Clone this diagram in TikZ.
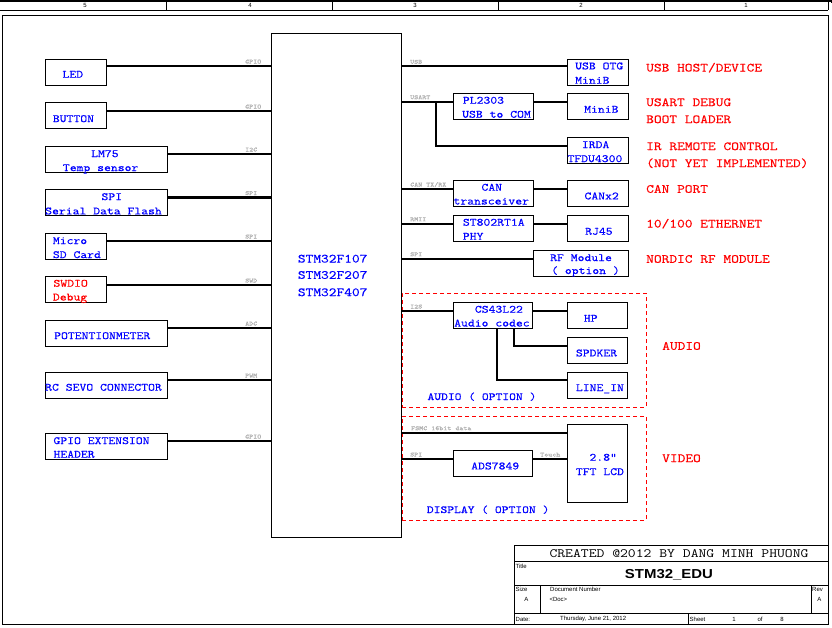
\documentclass[tikz,border=0pt]{standalone}
\usepackage{fontspec}
\setmainfont{Liberation Sans}
\newfontfamily\cour{Latin Modern Mono}[FakeStretch=1.2,FakeBold=0.4]
\newfontfamily\courl{Latin Modern Mono}[FakeStretch=1.2]
\definecolor{txtblue}{RGB}{0,0,255}
\definecolor{txtred}{RGB}{255,0,0}
\definecolor{labgray}{RGB}{175,175,175}
\tikzset{
 box/.style={draw=black,line width=1pt,anchor=north west,inner sep=0pt,outer sep=0pt},
 wire/.style={line width=2.1pt},
 bt/.style={text=txtblue,font=\cour\fontsize{11.1}{12}\selectfont,anchor=base west,inner sep=0pt},
 rbt/.style={text=txtred,font=\cour\fontsize{11.1}{12}\selectfont,anchor=base west,inner sep=0pt},
 rt/.style={text=txtred,font=\cour\fontsize{12.5}{13}\selectfont,anchor=base west,inner sep=0pt},
 st/.style={text=txtblue,font=\cour\fontsize{12.5}{13}\selectfont,anchor=base west,inner sep=0pt},
 sec/.style={text=txtblue,font=\cour\fontsize{10.8}{12}\selectfont,anchor=base west,inner sep=0pt},
 gl/.style={text=labgray,font=\cour\fontsize{6.3}{7}\selectfont,anchor=base west,inner sep=0pt},
 tb/.style={font=\fontsize{6}{7}\selectfont,inner sep=0pt},
 dbox/.style={draw=txtred,line width=1pt,dash pattern=on 4pt off 3pt,anchor=north west,inner sep=0pt,outer sep=0pt},
}
\newcommand\mkbox[5]{\node[box,minimum width=#4pt,minimum height=#5pt] (#1) at (#2,#3) {};}
\begin{document}
\begin{tikzpicture}[x=1pt,y=-1pt]
\useasboundingbox (0,0) rectangle (832,627);
% sheet frame
\draw[line width=1.5pt] (0,0.75) -- (832,0.75);
\draw[line width=1pt] (0,10) -- (828,10);
\draw[line width=1pt] (828,0) -- (828,10);
\draw[line width=1.5pt] (831.5,0) -- (831.5,3);
\foreach \xx in {166,332,498,664} \draw[line width=1pt] (\xx,1) -- (\xx,10);
\node[tb] (z5) at (85,5.5) {5};
\node[tb] (z4) at (250,5.5) {4};
\node[tb] (z3) at (415,5.5) {3};
\node[tb] (z2) at (581,5.5) {2};
\node[tb] (z1) at (746,5.5) {1};
\node[box,minimum width=826pt,minimum height=609pt] (frame) at (2,15) {};

% left boxes
\mkbox{led}{45}{59}{61}{26}
\mkbox{button}{45}{102}{61}{26}
\mkbox{lm}{45}{146}{122}{26}
\mkbox{flash}{45}{189}{122}{26.5}
\mkbox{sd}{45}{233}{61}{26}
\mkbox{swd}{45}{276}{61}{26}
\mkbox{pot}{45}{320}{122}{26}
\mkbox{rc}{45}{372}{122}{26}
\mkbox{gpio}{45}{433}{122}{26}
% MCU
\mkbox{stm}{271}{33}{130}{504}
% right boxes
\mkbox{usbotg}{567}{59}{61}{26}
\mkbox{minib}{567}{93}{61}{26}
\mkbox{irda}{567}{137}{61}{26}
\mkbox{pl}{453}{93}{80}{26}
\mkbox{can}{453}{180}{80}{26}
\mkbox{canx}{567}{180}{61}{26}
\mkbox{phy}{453}{215}{80}{26}
\mkbox{rj}{567}{215}{61}{26}
\mkbox{rf}{533}{250}{95}{26}
\mkbox{codec}{453}{302.5}{79}{26}
\mkbox{hp}{567}{302.5}{60}{26}
\mkbox{spk}{567}{337.5}{60}{26}
\mkbox{linein}{567}{372}{60}{26}
\mkbox{ads}{453}{450}{79}{26}
\mkbox{tft}{567}{424}{60}{78}
% option areas
\node[dbox,minimum width=244pt,minimum height=114pt] (audiobox) at (402,293) {};
\node[dbox,minimum width=244pt,minimum height=104pt] (dispbox) at (402,416) {};

% left wires
\draw[wire] (led.east |- 0,66) -- (stm.west |- 0,66);
\draw[wire] (button.east |- 0,111) -- (stm.west |- 0,111);
\draw[wire] (lm.east |- 0,154) -- (stm.west |- 0,154);
\draw[wire] (flash.east |- 0,197.5) -- (stm.west |- 0,197.5);
\draw[wire] (sd.east |- 0,241) -- (stm.west |- 0,241);
\draw[wire] (swd.east |- 0,285) -- (stm.west |- 0,285);
\draw[wire] (pot.east |- 0,328) -- (stm.west |- 0,328);
\draw[wire] (rc.east |- 0,380) -- (stm.west |- 0,380);
\draw[wire] (gpio.east |- 0,441) -- (stm.west |- 0,441);
% right wires
\draw[wire] (stm.east |- 0,66.3) -- (usbotg.west |- 0,66.3);
\draw[wire] (stm.east |- 0,101.7) -- (pl.west |- 0,101.7);
\draw[wire] (pl.east |- 0,101.7) -- (minib.west |- 0,101.7);
\coordinate (jus) at (435.7,101.7);
\draw[wire] (jus) |- (irda.west |- 0,146);
\draw[wire] (stm.east |- 0,189) -- (can.west |- 0,189);
\draw[wire] (can.east |- 0,189) -- (canx.west |- 0,189);
\draw[wire] (stm.east |- 0,223.7) -- (phy.west |- 0,223.7);
\draw[wire] (phy.east |- 0,223.7) -- (rj.west |- 0,223.7);
\draw[wire] (stm.east |- 0,258.7) -- (rf.west |- 0,258.7);
\draw[wire] (stm.east |- 0,311) -- (codec.west |- 0,311);
\draw[wire] (codec.east |- 0,311) -- (hp.west |- 0,311);
\draw[wire] (codec.south -| 514,0) |- (spk.west |- 0,345.7);
\draw[wire] (codec.south -| 496.7,0) |- (linein.west |- 0,379.7);
\draw[wire] (stm.east |- 0,432.7) -- (tft.west |- 0,432.7);
\draw[wire] (stm.east |- 0,459) -- (ads.west |- 0,459);
\draw[wire] (ads.east |- 0,459) -- (tft.west |- 0,459);

% bus labels
\node[gl] (g1) at (245,63.5) {GPIO};
\node[gl] (g2) at (245,108.5) {GPIO};
\node[gl] (g3) at (245,151.5) {I2C};
\node[gl] (g4) at (245,195) {SPI};
\node[gl] (g5) at (245,238.5) {SPI};
\node[gl] (g6) at (245,282.5) {SWD};
\node[gl] (g7) at (245,325.5) {ADC};
\node[gl] (g8) at (245,377.5) {PWM};
\node[gl] (g9) at (245,438.5) {GPIO};
\node[gl] (h1) at (410,63.8) {USB};
\node[gl] (h2) at (410,99.2) {USART};
\node[gl] (h3) at (410,186.5) {CAN TX/RX};
\node[gl] (h4) at (410,221.2) {RMII};
\node[gl] (h5) at (410,256.2) {SPI};
\node[gl] (h6) at (410,308.5) {I2S};
\node[gl] (h7) at (411,430.2) {FSMC 16bit data};
\node[gl] (h8) at (410,456.5) {SPI};
\node[gl] (h9) at (540,456.5) {Touch};

% box texts
\node[bt] (t1) at (62.3,77.7) {LED};
\node[bt] (t2) at (52.7,122.1) {BUTTON};
\node[bt] (t3) at (91,157.1) {LM75};
\node[bt] (t4) at (62.7,171.1) {Temp sensor};
\node[bt] (t5) at (101.3,200.1) {SPI};
\node[bt] (t6) at (45,214.4) {Serial Data Flash};
\node[bt] (t7) at (52.7,244.1) {Micro};
\node[bt] (t8) at (52.7,258.1) {SD Card};
\node[rbt] (t9) at (53.3,286.7) {SWDIO};
\node[rbt] (t10) at (52.7,300.5) {Debug};
\node[bt] (t11) at (54,339.1) {POTENTIONMETER};
\node[bt] (t12) at (45,390.7) {RC SEVO CONNECTOR};
\node[bt] (t13) at (53.3,444.1) {GPIO EXTENSION};
\node[bt] (t14) at (53.3,457.7) {HEADER};
\node[st] (s1) at (297.7,262.5) {STM32F107};
\node[st] (s2) at (297.7,278.8) {STM32F207};
\node[st] (s3) at (297.7,296.1) {STM32F407};
\node[bt] (u1) at (575,69.4) {USB OTG};
\node[bt] (u2) at (575,83.7) {MiniB};
\node[bt] (u3) at (584,112.7) {MiniB};
\node[bt] (u4) at (581.7,148.1) {IRDA};
\node[bt] (u5) at (567.3,162.1) {TFDU4300};
\node[bt] (u6) at (462.7,103.7) {PL2303};
\node[bt] (u7) at (462,117.7) {USB to COM};
\node[bt] (u8) at (481.3,190.7) {CAN};
\node[bt] (u9) at (453.3,204.5) {transceiver};
\node[bt] (u10) at (584.3,199.4) {CANx2};
\node[bt] (u11) at (462.7,225.7) {ST802RT1A};
\node[bt] (u12) at (462.7,239.7) {PHY};
\node[bt] (u13) at (585,234.7) {RJ45};
\node[bt] (u14) at (550,261.1) {RF Module};
\node[bt] (u15) at (551,274) {( option )};
\node[bt] (u16) at (474.7,312.7) {CS43L22};
\node[bt] (u17) at (454,326.5) {Audio codec};
\node[bt] (u18) at (583.7,321.7) {HP};
\node[bt] (u19) at (575.7,356.4) {SPDKER};
\node[bt] (u20) at (575.7,391.1) {LINE\_IN};
\node[bt] (u21) at (471,469.4) {ADS7849};
\node[bt] (u22) at (589.3,460.7) {2.8"};
\node[bt] (u23) at (575.7,475.1) {TFT LCD};
\node[sec] (a1) at (427.3,400) {AUDIO ( OPTION )};
\node[sec] (a2) at (426.7,513) {DISPLAY ( OPTION )};
% red descriptions
\node[rt] (r1) at (646,71.5) {USB HOST/DEVICE};
\node[rt] (r2) at (646,106.1) {USART DEBUG};
\node[rt] (r3) at (646,123.1) {BOOT LOADER};
\node[rt] (r4) at (646,150.1) {IR REMOTE CONTROL};
\node[rt] (r5) at (646,167.1) {(NOT YET IMPLEMENTED)};
\node[rt] (r6) at (646,192.8) {CAN PORT};
\node[rt] (r7) at (646,227.5) {10/100 ETHERNET};
\node[rt] (r8) at (646,262.8) {NORDIC RF MODULE};
\node[rt] (r9) at (662,349.8) {AUDIO};
\node[rt] (r10) at (662,462.1) {VIDEO};

% title block
\node[box,fill=white,minimum width=313.5pt,minimum height=79pt] (tblock) at (514.5,545) {};
\draw[line width=1pt] (tblock.west |- 0,561) -- (tblock.east |- 0,561);
\draw[line width=1pt] (tblock.west |- 0,585) -- (tblock.east |- 0,585);
\draw[line width=1pt] (tblock.west |- 0,613) -- (tblock.east |- 0,613);
\draw[line width=1pt] (540.7,585) -- (540.7,613);
\draw[line width=1pt] (811,585) -- (811,613);
\draw[line width=1pt] (688.3,613) -- (688.3,624);
\node[font=\courl\fontsize{12.7}{13}\selectfont,anchor=base west,inner sep=0pt] (cr) at (549.3,557.8) {CREATED @2012 BY DANG MINH PHUONG};
\node[tb,anchor=west] (k1) at (515.5,566) {Title};
\node[font=\bfseries\addfontfeatures{FakeStretch=1.15}\fontsize{13}{14}\selectfont,inner sep=0pt] (k2) at (669,575) {STM32\_EDU};
\node[tb,anchor=west] (k3) at (515.5,589.5) {Size};
\node[tb] (k4) at (526.3,599.5) {A};
\node[tb,anchor=west] (k5) at (550,589.5) {Document Number};
\node[tb,anchor=west] (k6) at (549.3,599.5) {<Doc>};
\node[tb,anchor=west] (k7) at (812,589.5) {Rev};
\node[tb] (k8) at (819.3,599.5) {A};
\node[tb,anchor=west] (k9) at (515.5,619) {Date:};
\node[tb,anchor=west] (k10) at (560,619) {Thursday, June 21, 2012};
\node[tb,anchor=west] (k11) at (689.5,619) {Sheet};
\node[tb] (k12) at (734,619) {1};
\node[tb] (k13) at (760,619) {of};
\node[tb] (k14) at (782,619) {8};
\end{tikzpicture}
\end{document}
